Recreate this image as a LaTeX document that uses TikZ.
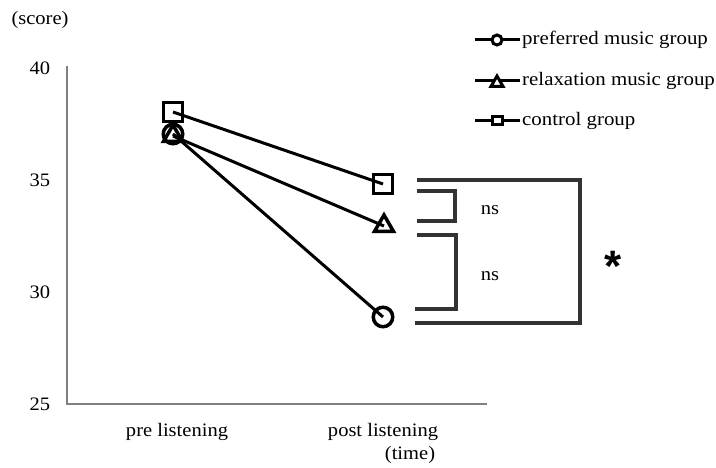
\documentclass[tikz,border=0pt]{standalone}
\usepackage{fontspec}
\setmainfont{Liberation Serif}
\newfontfamily\starfont{Liberation Sans}
\usetikzlibrary{shapes.geometric}
\newcommand\hx[1]{\scalebox{1.08}[1]{#1}}
\tikzset{
  txt/.style={font=\fontsize{19}{21}\selectfont, inner sep=0pt},
  axisline/.style={draw=black!50, line width=2pt},
  series/.style={draw=black, line width=3pt},
  sqmark/.style={draw=black, line width=3.5pt, rectangle, minimum size=19pt, inner sep=0pt},
  cmark/.style={draw=black, line width=3.5pt, circle, minimum size=19.5pt, inner sep=0pt},
  tmark/.style={draw=black, line width=3.5pt, regular polygon, regular polygon sides=3, minimum size=22pt, inner sep=0pt},
  lsq/.style={draw=black, line width=3pt, rectangle, minimum width=10pt, minimum height=8pt, inner sep=0pt},
  lci/.style={draw=black, line width=3pt, circle, minimum size=10pt, inner sep=0pt},
  ltr/.style={draw=black, line width=3pt, regular polygon, regular polygon sides=3, minimum size=14pt, inner sep=0pt},
  brk/.style={draw=black!80, line width=3.5pt},
}
\begin{document}
\begin{tikzpicture}[x=1pt,y=-1pt]
\useasboundingbox (0,0) rectangle (716,468);
% axes
\coordinate (ytop) at (67,66);
\coordinate (orig) at (67,404);
\coordinate (xend) at (487,404);
\draw[axisline] (ytop) -- (orig) -- (xend);
% tick labels
\node[txt] (t40) at (40,68) {\hx{40}};
\node[txt] (t35) at (40,180) {\hx{35}};
\node[txt] (t30) at (40,292) {\hx{30}};
\node[txt] (t25) at (40,404) {\hx{25}};
\node[txt] (score) at (40,20) {\hx{(score)}};
\node[txt] (time) at (410,455) {\hx{(time)}};
\node[txt] (prel) at (177,432) {\hx{pre listening}};
\node[txt] (postl) at (383,432) {\hx{post listening}};
% data markers
\node[sqmark] (cpre) at (173,112) {};
\node[cmark] (ppre) at (173,134) {};
\node[tmark] (rpre) at (173,136) {};
\node[sqmark] (cpost) at (383,184) {};
\node[tmark] (rpost) at (384,226) {};
\node[cmark] (ppost) at (383,317) {};
\draw[series] (cpre.center) -- (cpost.center);
\draw[series] (rpre.center) -- (rpost.center);
\draw[series] (ppre.center) -- (ppost.center);
% brackets
\coordinate (oa) at (417,180);
\coordinate (ob) at (580,323);
\coordinate (oc) at (415,323);
\draw[brk] (oa) -| (ob) -- (oc);
\coordinate (ia) at (417,191);
\coordinate (ib) at (455,221);
\coordinate (ic) at (417,221);
\draw[brk] (ia) -| (ib) -- (ic);
\coordinate (ja) at (417,235);
\coordinate (jb) at (456,309);
\coordinate (jc) at (415,309);
\draw[brk] (ja) -| (jb) -- (jc);
\node[txt] (ns1) at (490,210) {\hx{ns}};
\node[txt] (ns2) at (490,276) {\hx{ns}};
\node[inner sep=0pt, font=\starfont\bfseries\fontsize{44}{44}\selectfont] (star) at (613,266) {*};
% legend
\coordinate (la1) at (475,40); \coordinate (lb1) at (520,40);
\coordinate (la2) at (475,81); \coordinate (lb2) at (520,81);
\coordinate (la3) at (475,121); \coordinate (lb3) at (520,121);
\draw[line width=3pt] (la1) -- (lb1);
\draw[line width=3pt] (la2) -- (lb2);
\draw[line width=3pt] (la3) -- (lb3);
\node[lci, fill=white] (lm1) at (497,40) {};
\node[ltr, fill=white] (lm2) at (497,83) {};
\node[lsq, fill=white] (lm3) at (497,121) {};
\node[txt, anchor=west] (lt1) at (522,40) {\scalebox{1.1}[1]{preferred music group}};
\node[txt, anchor=west] (lt2) at (522,81) {\scalebox{1.1}[1]{relaxation music group}};
\node[txt, anchor=west] (lt3) at (522,121) {\scalebox{1.1}[1]{control group}};
\end{tikzpicture}
\end{document}
